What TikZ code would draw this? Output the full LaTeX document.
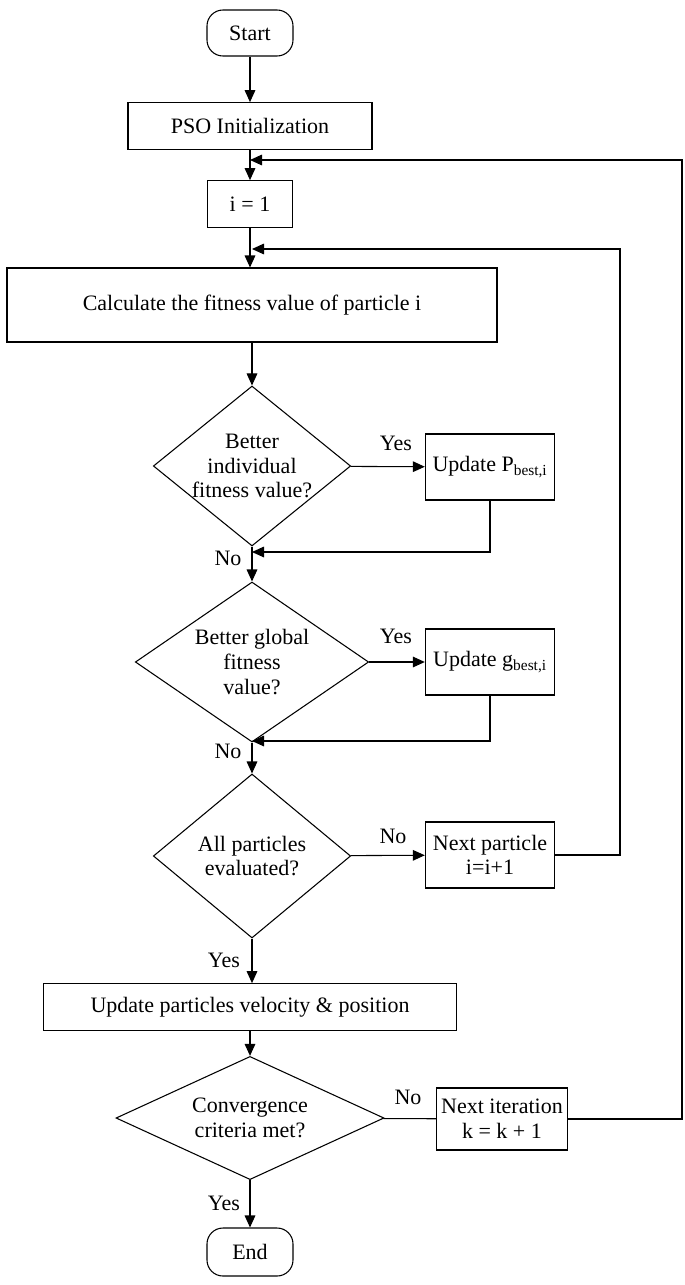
\documentclass[tikz,border=0pt]{standalone}
\usepackage{fontspec}
\setmainfont{Liberation Serif}
\usetikzlibrary{shapes.geometric,arrows.meta}
\begin{document}
\begin{tikzpicture}[x=0.75pt,y=-0.75pt,
  every node/.style={font=\fontsize{16.5}{18.5}\selectfont},
  box/.style={draw,thick,rectangle,inner sep=2pt,align=center},
  term/.style={draw,thick,rounded corners=12pt,inner sep=2pt},
  dec/.style={draw,thick,diamond,inner sep=-6pt,align=center},
  lab/.style={inner sep=1pt},
  arr/.style={thick,-{Triangle[length=9pt,width=8pt]}},
  ln/.style={thick}]
\useasboundingbox (0,0) rectangle (685,1285);
\node[term,minimum width=64.5pt,minimum height=34.5pt] (start) at (250,33) {Start};
\node[box,minimum width=183pt,minimum height=35pt] (init) at (250,126) {PSO Initialization};
\node[box,minimum width=64pt,minimum height=35pt] (i1) at (250,204) {i = 1};
\node[box,minimum width=367.5pt,minimum height=55.5pt] (calc) at (252,305) {Calculate the fitness value of particle i};
\node[dec,minimum width=148pt,minimum height=120pt] (d1) at (252,466) {Better\\individual\\fitness value?};
\node[box,minimum width=97pt,minimum height=49.5pt] (up) at (490,467) {Update P\textsubscript{best,i}};
\node[dec,minimum width=175pt,minimum height=120pt] (d2) at (252,662) {Better global\\fitness\\value?};
\node[box,minimum width=97pt,minimum height=49.5pt] (ug) at (490,662) {Update g\textsubscript{best,i}};
\node[dec,minimum width=148pt,minimum height=123pt] (d3) at (252,856) {All particles\\evaluated?};
\node[box,minimum width=97pt,minimum height=49.5pt,inner sep=0pt] (np) at (490,855) {Next particle\\i=i+1};
\node[box,minimum width=310pt,minimum height=35pt] (upd) at (250,1007) {Update particles velocity \& position};
\node[dec,minimum width=201pt,minimum height=90pt] (d4) at (250,1118) {Convergence\\criteria met?};
\node[box,minimum width=98pt,minimum height=46.5pt,inner sep=0pt] (ni) at (502,1119) {Next iteration\\k = k + 1};
\node[term,minimum width=64.5pt,minimum height=36pt] (end) at (250,1252) {End};

\coordinate (m1) at (252,552);
\coordinate (m2) at (252,741);
\coordinate (l1a) at (620,855);
\coordinate (l1b) at (620,249);
\coordinate (l1c) at (252,249);
\coordinate (l2a) at (682,1119);
\coordinate (l2b) at (682,160);
\coordinate (l2c) at (250,160);

\draw[arr] (start) -- (init);
\draw[arr] (init) -- (i1);
\draw[arr] (i1) -- (calc.north -| i1);
\draw[arr] (calc) -- (d1);
\draw[arr] (d1) -- (up);
\draw[arr] (d1) -- (d2);
\draw[arr] (up) |- (m1);
\draw[arr] (d2) -- (ug);
\draw[arr] (d2) -- (d3);
\draw[arr] (ug) |- (m2);
\draw[arr] (d3) -- (np);
\draw[arr] (np) -- (l1a) -- (l1b) -- (l1c);
\draw[arr] (d3) -- (upd.north -| d3);
\draw[arr] (upd) -- (d4);
\draw[ln] (d4) -- (ni);
\draw[arr] (ni) -- (l2a) -- (l2b) -- (l2c);
\draw[arr] (d4) -- (end);

\node[lab] at (396,443) {Yes};
\node[lab] at (228,558) {No};
\node[lab] at (396,636) {Yes};
\node[lab] at (228,751) {No};
\node[lab] at (393,836) {No};
\node[lab] at (224,960) {Yes};
\node[lab] at (408,1097) {No};
\node[lab] at (224,1203) {Yes};
\end{tikzpicture}
\end{document}
